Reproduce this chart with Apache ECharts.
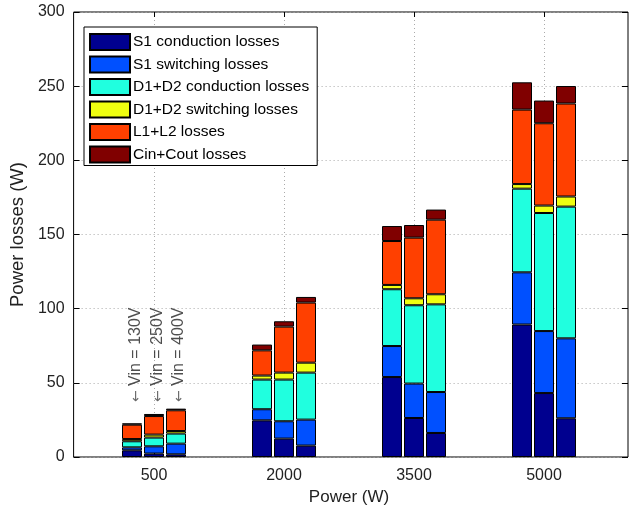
<!DOCTYPE html>
<html>
<head>
<meta charset="utf-8">
<script src="https://cdn.jsdelivr.net/npm/echarts@6/dist/echarts.min.js"></script>
<style>
html, body { margin: 0; padding: 0; background: #fff; }
#main { width: 630px; height: 513px; }
</style>
</head>
<body>
<div id="main"></div>
<script>
// 横坐标：输出功率
var powers = ['500', '2000', '3500', '5000'];
// 三种输入电压，每种一根柱子
var vins = ['130V', '250V', '400V'];
// 每类损耗：按电压分三行，每行对应四个功率点 (W)
var s1Cond = [[4.5, 24.7, 53.9, 89.3], [2.3, 12.4, 26.3, 43.1], [1.8, 7.7, 16.2, 26.1]];
var s1Sw   = [[2.0, 7.5, 20.9, 35.2], [4.9, 11.7, 23.2, 41.8], [7.2, 17.5, 27.6, 53.9]];
var dCond  = [[4.1, 20.0, 38.3, 56.4], [5.9, 28.1, 52.8, 79.6], [6.8, 31.7, 59.1, 88.8]];
var dSw    = [[1.5, 2.7, 2.9, 3.1], [2.0, 4.7, 4.7, 5.0], [1.7, 6.7, 6.8, 6.8]];
var lLoss  = [[9.7, 17.0, 29.6, 50.2], [12.5, 31.0, 40.9, 55.5], [14.0, 40.5, 50.3, 62.7]];
var cLoss  = [[0.9, 3.9, 10.1, 18.4], [1.4, 3.6, 8.5, 15.3], [1.1, 3.8, 6.8, 11.8]];
var names = ['S1 conduction losses', 'S1 switching losses', 'D1+D2 conduction losses',
             'D1+D2 switching losses', 'L1+L2 losses', 'Cin+Cout losses'];
// 纵坐标刻度
var yTicks = [0, 50, 100, 150, 200, 250, 300];
// 注释文字的位置（功率点、纵坐标值）
var annotAt = '500';
var annotY = 37;

var colors = ['#00008f', '#0050ff', '#20ffdf', '#efff10', '#ff4000', '#800000'];
var comps = [s1Cond, s1Sw, dCond, dSw, lLoss, cLoss];
// 文字旋转后，offset 的第二个分量是水平方向
var annotOffsets = [[0, -18], [0, 4], [0, 25]];
var font = 'Liberation Sans, Arial, DejaVu Sans, sans-serif';

var series = [];
for (var c = 0; c < comps.length; c++) {
    for (var v = 0; v < vins.length; v++) {
        series.push({
            name: names[c],
            type: 'bar',
            xAxisIndex: 1,
            yAxisIndex: 2,
            stack: vins[v],
            barWidth: 20,
            barGap: '10%',
            clip: false,
            itemStyle: { color: colors[c], borderColor: '#000', borderWidth: 1 },
            emphasis: { disabled: true },
            data: comps[c][v]
        });
    }
}

// Vin 注释
series.push({
    type: 'scatter',
    xAxisIndex: 1,
    yAxisIndex: 2,
    symbolSize: 0,
    silent: true,
    label: {
        show: true,
        rotate: 90,
        position: 'inside',
        align: 'left',
        verticalAlign: 'middle',
        formatter: function (p) { return '{a|\u2190} ' + p.name; },
        fontSize: 16,
        fontFamily: font,
        color: '#222',
        rich: {
            a: { fontFamily: 'DejaVu Sans', fontSize: 14, color: '#444' }
        }
    },
    data: vins.map(function (v, i) {
        return { name: 'Vin = ' + v, value: [annotAt, annotY], label: { offset: annotOffsets[i] } };
    })
});

var myChart = echarts.init(document.getElementById('main'));
var option = {
    animation: false,
    backgroundColor: '#fff',
    grid: [
        { left: 67, right: 2, top: 12, bottom: 56, show: true, borderColor: '#000', borderWidth: 1 },
        { left: 154, right: 86, top: 12, bottom: 56 }
    ],
    legend: {
        orient: 'vertical',
        left: 84,
        top: 27,
        padding: [6, 8, 2, 5],
        itemWidth: 40,
        itemHeight: 16,
        itemGap: 4.5,
        icon: 'rect',
        backgroundColor: '#fff',
        borderColor: '#000',
        borderWidth: 1,
        borderRadius: 0,
        data: names,
        textStyle: { fontSize: 15.5, fontFamily: font, color: '#000', padding: [0, 0, 0, -2] }
    },
    xAxis: [
        { type: 'value', gridIndex: 0, min: 0, max: 1, show: false },
        {
            type: 'category', gridIndex: 1, data: powers, boundaryGap: false,
            name: 'Power (W)', nameLocation: 'middle', nameGap: 32,
            nameTextStyle: { fontSize: 17, fontFamily: font, color: '#222' },
            axisLine: { show: false },
            axisTick: { show: true, inside: true, length: 5, lineStyle: { color: '#000' } },
            axisLabel: {
                fontSize: 16, fontFamily: font, color: '#222', margin: 11,
                alignMinLabel: 'center', alignMaxLabel: 'center'
            },
            splitLine: { show: true, lineStyle: { color: '#aaa', type: [1, 3] } }
        },
        {
            type: 'category', gridIndex: 1, data: powers, boundaryGap: false, position: 'top',
            axisLine: { show: false },
            axisTick: { show: true, inside: true, length: 5, lineStyle: { color: '#000' } },
            axisLabel: { show: false },
            splitLine: { show: false }
        }
    ],
    yAxis: [
        {
            type: 'value', gridIndex: 0, min: yTicks[0], max: yTicks[yTicks.length - 1], interval: 50,
            name: 'Power losses (W)', nameLocation: 'middle', nameGap: 41,
            nameTextStyle: { fontSize: 18.5, fontFamily: font, color: '#222' },
            axisLine: { show: false },
            axisTick: { show: true, inside: true, length: 6, lineStyle: { color: '#000' } },
            axisLabel: { fontSize: 16, fontFamily: font, color: '#222', margin: 9 },
            splitLine: { show: true, lineStyle: { color: '#aaa', type: [1, 3] } }
        },
        {
            type: 'value', gridIndex: 0, position: 'right', min: 0, max: 300, interval: 50,
            axisLine: { show: false },
            axisTick: { show: true, inside: true, length: 6, lineStyle: { color: '#000' } },
            axisLabel: { show: false },
            splitLine: { show: false }
        },
        { type: 'value', gridIndex: 1, min: 0, max: 300, show: false }
    ],
    series: series
};
myChart.setOption(option);
</script>
</body>
</html>
